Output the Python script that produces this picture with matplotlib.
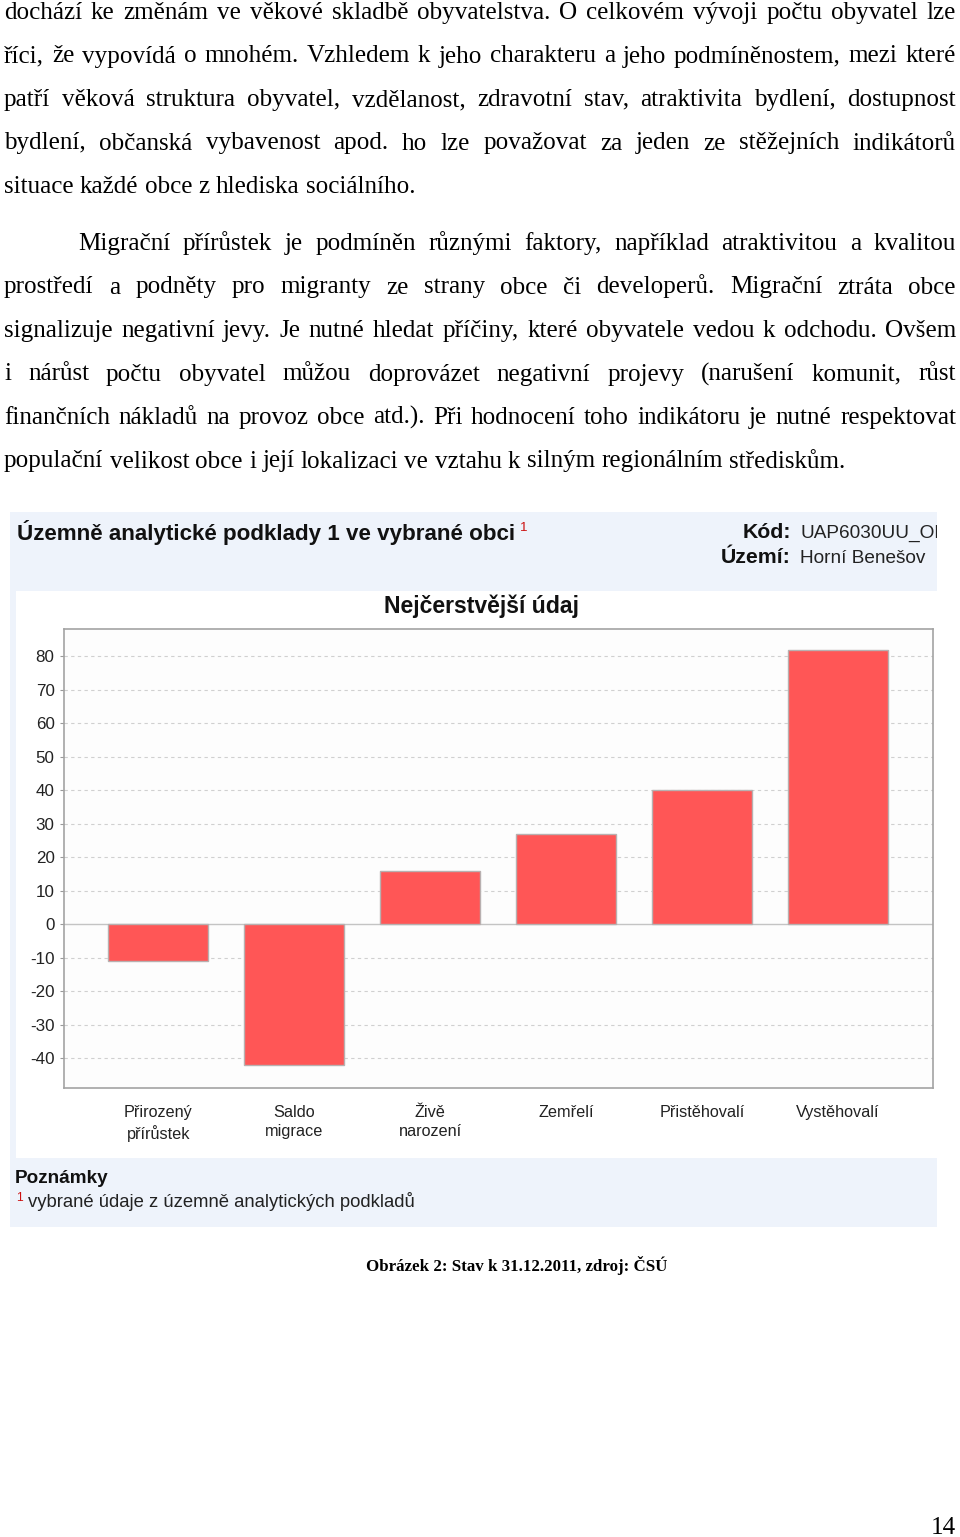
import matplotlib
matplotlib.use('Agg')
import matplotlib.pyplot as plt
from matplotlib.patches import Rectangle

# page text (two paragraphs, one string per printed line)
paragraph1 = [
    'dochází ke změnám ve věkové skladbě obyvatelstva. O celkovém vývoji počtu obyvatel lze',
    'říci, že vypovídá o mnohém. Vzhledem k jeho charakteru a jeho podmíněnostem, mezi které',
    'patří věková struktura obyvatel, vzdělanost, zdravotní stav, atraktivita bydlení, dostupnost',
    'bydlení, občanská vybavenost apod. ho lze považovat za jeden ze stěžejních indikátorů',
    'situace každé obce z hlediska sociálního.',
]
paragraph2 = [
    'Migrační přírůstek je podmíněn různými faktory, například atraktivitou a kvalitou',
    'prostředí a podněty pro migranty ze strany obce či developerů. Migrační ztráta obce',
    'signalizuje negativní jevy. Je nutné hledat příčiny, které obyvatele vedou k odchodu. Ovšem',
    'i nárůst počtu obyvatel můžou doprovázet negativní projevy (narušení komunit, růst',
    'finančních nákladů na provoz obce atd.). Při hodnocení toho indikátoru je nutné respektovat',
    'populační velikost obce i její lokalizaci ve vztahu k silným regionálním střediskům.',
]

# chart data
categories = ['Přirozený\npřírůstek', 'Saldo\nmigrace', 'Živě\nnarození',
              'Zemřelí', 'Přistěhovalí', 'Vystěhovalí']
values = [-11, -42, 16, 27, 40, 82]
y_ticks = [-40, -30, -20, -10, 0, 10, 20, 30, 40, 50, 60, 70, 80]

header_title = 'Územně analytické podklady 1 ve vybrané obci'
kod = 'UAP6030UU_OBEC'
uzemi = 'Horní Benešov'
chart_title = 'Nejčerstvější údaj'
note_title = 'Poznámky'
note_text = 'vybrané údaje z územně analytických podkladů'
caption = 'Obrázek 2: Stav k 31.12.2011, zdroj: ČSÚ'
page_no = '14'

W, H = 960, 1537
SERIF = 'Liberation Serif'
SANS = ['Liberation Sans', 'DejaVu Sans']

fig = plt.figure(figsize=(W / 100, H / 100), dpi=100)
fig.patch.set_facecolor('white')
page = fig.add_axes([0, 0, 1, 1])
page.set_xlim(0, W)
page.set_ylim(H, 0)
page.axis('off')
renderer = fig.canvas.get_renderer()


def text_width(s, size, **kw):
    t = page.text(0, 0, s, fontsize=size, **kw)
    w = t.get_window_extent(renderer).width
    t.remove()
    return w


def fit_size(s, width, **kw):
    return 10 * width / text_width(s, 10, **kw)


def draw_line(s, x0, x1, y, size, justify=True, **kw):
    words = s.split(' ')
    texts = [page.text(0, y, w, fontsize=size, va='baseline', ha='left', **kw) for w in words]
    widths = [t.get_window_extent(renderer).width for t in texts]
    if justify and len(words) > 1:
        gap = (x1 - x0 - sum(widths)) / (len(words) - 1)
    else:
        gap = text_width('a a', size, **kw) - text_width('aa', size, **kw)
    x = x0
    for t, w in zip(texts, widths):
        t.set_x(x)
        x += w + gap


body_size = fit_size(paragraph1[-1], 412, family=SERIF)
left, right = 4, 956
line_h = 43.5

y = 19
for i, line in enumerate(paragraph1):
    draw_line(line, left, right, y, body_size, justify=i < len(paragraph1) - 1, family=SERIF)
    y += line_h
y = 250
for i, line in enumerate(paragraph2):
    x0 = 78 if i == 0 else left
    draw_line(line, x0, right, y, body_size, justify=i < len(paragraph2) - 1, family=SERIF)
    y += line_h

# chart panel backgrounds
panel_bg = '#eef3fb'
panel = Rectangle((10, 512), 927, 715, facecolor=panel_bg, edgecolor='none', zorder=0)
page.add_patch(panel)
page.add_patch(Rectangle((16, 591), 921, 567, facecolor='white', edgecolor='none', zorder=1))

hsize = fit_size(header_title, 500, family=SANS, weight='bold')
page.text(17, 540, header_title, fontsize=hsize, family=SANS, weight='bold',
          va='baseline', color='#111111', zorder=3)
page.text(520, 531, '1', fontsize=hsize * 0.6, family=SANS, color='#cc1111',
          va='baseline', zorder=3)

lsize = hsize * 0.95
page.text(791, 538, 'Kód:', fontsize=lsize, family=SANS, weight='bold',
          ha='right', va='baseline', color='#111111', zorder=3)
page.text(791, 563, 'Území:', fontsize=lsize, family=SANS, weight='bold',
          ha='right', va='baseline', color='#111111', zorder=3)
vsize = fit_size(uzemi, 126, family=SANS)
t = page.text(800, 538, kod, fontsize=vsize, family=SANS, va='baseline',
              color='#222222', zorder=3)
t.set_clip_path(panel)
t.set_clip_on(True)
page.text(800, 563, uzemi, fontsize=vsize, family=SANS, va='baseline',
          color='#222222', zorder=3)

tsize = fit_size(chart_title, 196, family=SANS, weight='bold')
page.text(481, 613, chart_title, fontsize=tsize, family=SANS, weight='bold',
          ha='center', va='baseline', color='#111111', zorder=3)

nsize = fit_size(note_title, 93, family=SANS, weight='bold')
page.text(15, 1183, note_title, fontsize=nsize, family=SANS, weight='bold',
          va='baseline', color='#111111', zorder=3)
fsize = fit_size(note_text, 390, family=SANS)
page.text(16, 1201, '1', fontsize=fsize * 0.65, family=SANS, color='#cc1111',
          va='baseline', zorder=3)
page.text(28, 1207, note_text, fontsize=fsize, family=SANS, va='baseline',
          color='#222222', zorder=3)

csize = fit_size(caption, 300, family=SERIF, weight='bold')
page.text(517, 1271, caption, fontsize=csize, family=SERIF, weight='bold',
          ha='center', va='baseline', color='black')
page.text(956, 1534, page_no, fontsize=body_size, family=SERIF, ha='right',
          va='baseline', color='black')

# bar chart
x0, x1, ytop, ybot = 64.3, 933.3, 629, 1088
ax = fig.add_axes([x0 / W, 1 - ybot / H, (x1 - x0) / W, (ybot - ytop) / H])
ax.set_zorder(2)
ax.set_facecolor('#fdfdfd')
positions = list(range(len(categories)))
ax.bar(positions, values, width=0.735, color='#ff5656', edgecolor='#b8b0b0',
       linewidth=1.0, zorder=3)
ax.set_xlim(-0.691, 5.70)
ax.set_ylim(-48.9, 88.2)
ax.set_yticks(y_ticks)
ax.set_yticklabels([str(v) for v in y_ticks])
for v in y_ticks:
    if v == 0:
        ax.axhline(v, color='#c4c4c4', linewidth=1.0, zorder=1)
    else:
        ax.axhline(v, color='#d0d0d0', linewidth=0.8, linestyle=(0, (3, 3)), zorder=1)
ax.set_xticks(positions)
catsize = fit_size('Přistěhovalí', 85, family=SANS)
ax.set_xticklabels(categories, fontsize=catsize, family=SANS, color='#222222',
                   linespacing=1.35, va='top')
ax.tick_params(axis='x', length=0, pad=12)
ticksize = fit_size('80', 19, family=SANS)
ax.tick_params(axis='y', length=3, width=0.8, color='#999999', pad=4,
               labelsize=ticksize, labelcolor='#222222')
for lab in ax.get_yticklabels():
    lab.set_family(SANS)
for side in ['left', 'right', 'top', 'bottom']:
    ax.spines[side].set_color('#a3a3a3')
    ax.spines[side].set_linewidth(1.2)

fig.savefig('out.png', dpi=100)
